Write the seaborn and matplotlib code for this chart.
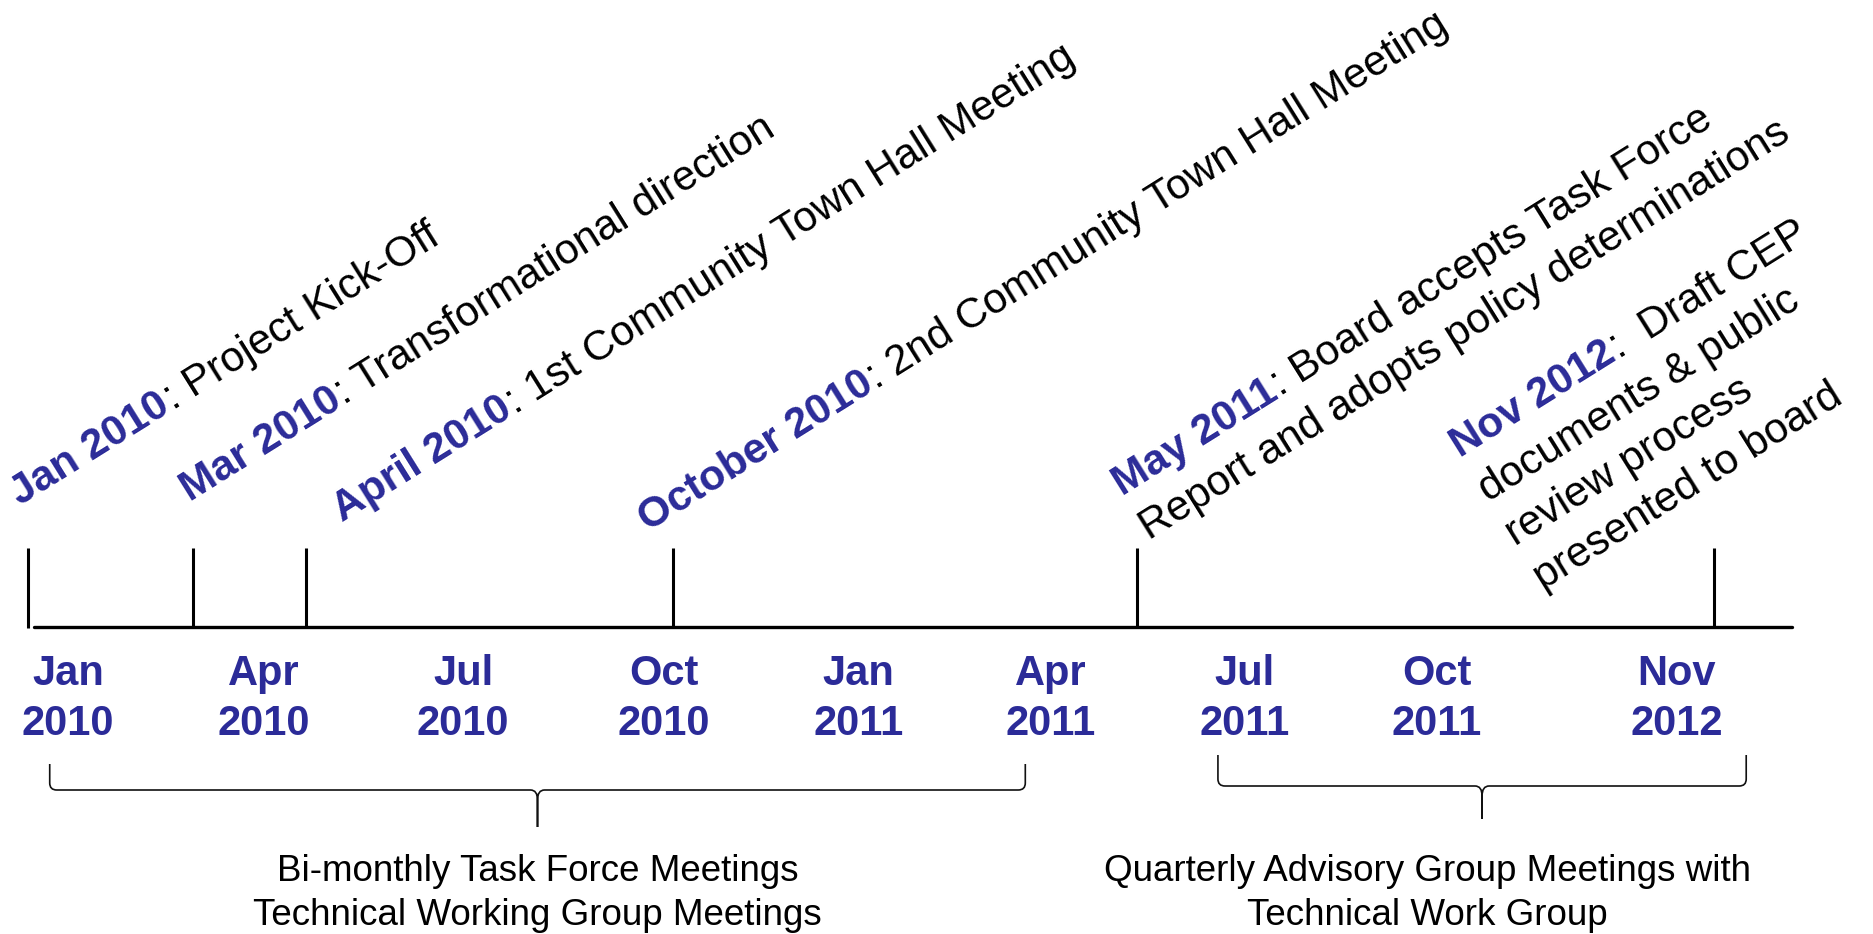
import matplotlib
matplotlib.use("Agg")
import matplotlib.pyplot as plt
import matplotlib.transforms as mtransforms
from matplotlib.path import Path
from matplotlib.patches import PathPatch
import numpy as np
import pandas as pd
import seaborn as sns

# axis labels (schematic scale, months after Jan 2010)
tick_months = ["Jan", "Apr", "Jul", "Oct", "Jan", "Apr", "Jul", "Oct", "Nov"]
tick_years = ["2010", "2010", "2010", "2010", "2011", "2011", "2011", "2011", "2012"]
tick_pos = [0, 3.0, 6.05, 9.13, 12.1, 15.05, 18.02, 20.96, 24.64]

# milestones
event_dates = ["Jan 2010", "Mar 2010", "April 2010", "October 2010", "May 2011", "Nov 2012"]
event_lines = [
    [": Project Kick-Off"],
    [": Transformational direction"],
    [": 1st Community Town Hall Meeting"],
    [": 2nd Community Town Hall Meeting"],
    [": Board accepts Task Force", "Report and adopts policy determinations"],
    [":  Draft CEP", "documents & public", "review process", "presented to board"],
]
event_pos = [-0.61, 1.91, 3.64, 9.26, 16.37, 25.21]

# meeting groups
group_labels = [
    ["Bi-monthly Task Force Meetings", "Technical Working Group Meetings"],
    ["Quarterly Advisory Group Meetings with", "Technical Work Group"],
]
group_start = [-0.28, 17.61]
group_end = [14.66, 25.70]

# layout (pixels)
PX = 65.3      # pixels per month
X0 = 68        # pixel column of Jan 2010 label
W, H = 1873, 934
BLUE = "#2B2B98"
ANGLE = 32
LINE_GAP = 52
label_dx = [-8, -3, 37, -25, -15, -254]
label_y = [506, 502, 522, 532, 496, 458]
group_text_dx = [0, -55]
brace_y = [(764, 790, 827), (755, 786, 819)]

sns.set_theme(style="white")
plt.rcParams["font.family"] = ["Liberation Sans", "DejaVu Sans"]

fig = plt.figure(figsize=(W / 100, H / 100), dpi=100)
ax = fig.add_axes([0, 0, 1, 1])
ax.set_xlim(-X0 / PX, (W - X0) / PX)
ax.set_ylim(H, 0)
ax.axis("off")

# main time line
axis_df = pd.DataFrame({"x": [(34 - X0) / PX, (1792 - X0) / PX], "y": [627, 627]})
sns.lineplot(data=axis_df, x="x", y="y", ax=ax, color="black", linewidth=2.4)

# milestone ticks
ax.vlines(event_pos, 548, 628, color="black", linewidth=2.2)

# axis labels
for m, yr, p in zip(tick_months, tick_years, tick_pos):
    ax.text(p, 685, m, color=BLUE, fontsize=30, fontweight="bold", ha="center", va="baseline")
    ax.text(p, 735, yr, color=BLUE, fontsize=30, fontweight="bold", ha="center", va="baseline")

# rotated milestone descriptions
fig.canvas.draw()
renderer = fig.canvas.get_renderer()
theta = np.deg2rad(ANGLE)
along = np.array([np.cos(theta), np.sin(theta)])
down = np.array([np.sin(theta), -np.cos(theta)])
FS = 30.5
for date, lines, pos, dx, y in zip(event_dates, event_lines, event_pos, label_dx, label_y):
    x = pos + dx / PX
    probe = ax.text(0, 0, date, fontsize=FS, fontweight="bold")
    w = probe.get_window_extent(renderer).width
    probe.remove()
    ax.text(x, y, date, color=BLUE, fontsize=FS, fontweight="bold", rotation=ANGLE,
            rotation_mode="anchor", ha="left", va="baseline")
    for i, line in enumerate(lines):
        off = along * (w + 1) if i == 0 else down * LINE_GAP * i
        tr = mtransforms.offset_copy(ax.transData, fig=fig, x=off[0], y=off[1], units="dots")
        ax.text(x, y, line, transform=tr, color="black", fontsize=FS, rotation=ANGLE,
                rotation_mode="anchor", ha="left", va="baseline")


def brace(x0, x1, y_top, y_mid, y_tip, r=7, rt=10):
    rx = r / PX
    tx = 7 / PX
    xm = (x0 + x1) / 2
    verts = [(x0, y_top), (x0, y_mid - r), (x0, y_mid), (x0 + rx, y_mid),
             (xm - tx, y_mid), (xm, y_mid), (xm, y_mid + rt), (xm, y_tip),
             (xm, y_mid + rt), (xm, y_mid), (xm + tx, y_mid),
             (x1 - rx, y_mid), (x1, y_mid), (x1, y_mid - r), (x1, y_top)]
    codes = [Path.MOVETO, Path.LINETO, Path.CURVE3, Path.CURVE3,
             Path.LINETO, Path.CURVE3, Path.CURVE3, Path.LINETO,
             Path.LINETO, Path.CURVE3, Path.CURVE3,
             Path.LINETO, Path.CURVE3, Path.CURVE3, Path.LINETO]
    ax.add_patch(PathPatch(Path(verts, codes), fill=False, edgecolor="#111111", linewidth=1.2))


for s, e, lbl, tdx, (yt, ym, yp) in zip(group_start, group_end, group_labels, group_text_dx, brace_y):
    brace(s, e, yt, ym, yp)
    cx = (s + e) / 2 + tdx / PX
    for i, line in enumerate(lbl):
        ax.text(cx, 881 + 44 * i, line, color="black", fontsize=26.5, ha="center", va="baseline")

fig.savefig("out.png", dpi=100)
